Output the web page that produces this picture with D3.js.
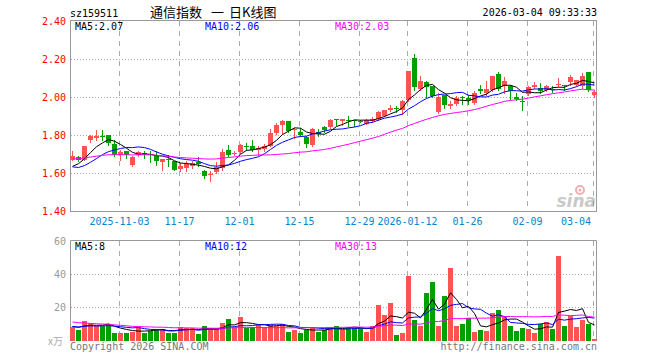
<!DOCTYPE html>
<html>
<head>
<meta charset="utf-8">
<script src="https://cdn.jsdelivr.net/npm/d3@7/dist/d3.min.js"></script>
<style>
  body { margin: 0; background: #fff; }
  text { font-family: "DejaVu Sans Mono", monospace; font-size: 10px; }
</style>
</head>
<body>
<div class="kline"></div>
<script>
// 交易日
const dates = [
  "2025-10-22", "2025-10-23", "2025-10-24", "2025-10-27", "2025-10-28", "2025-10-29", "2025-10-30", "2025-10-31",
  "2025-11-03", "2025-11-04", "2025-11-05", "2025-11-06", "2025-11-07", "2025-11-10", "2025-11-11", "2025-11-12",
  "2025-11-13", "2025-11-14", "2025-11-17", "2025-11-18", "2025-11-19", "2025-11-20", "2025-11-21", "2025-11-24",
  "2025-11-25", "2025-11-26", "2025-11-27", "2025-11-28",
  "2025-12-01", "2025-12-02", "2025-12-03", "2025-12-04", "2025-12-05", "2025-12-08", "2025-12-09", "2025-12-10",
  "2025-12-11", "2025-12-12", "2025-12-15", "2025-12-16", "2025-12-17", "2025-12-18", "2025-12-19", "2025-12-22",
  "2025-12-23", "2025-12-24", "2025-12-25", "2025-12-26", "2025-12-29", "2025-12-30", "2025-12-31",
  "2026-01-05", "2026-01-06", "2026-01-07", "2026-01-08", "2026-01-09", "2026-01-12", "2026-01-13", "2026-01-14",
  "2026-01-15", "2026-01-16", "2026-01-19", "2026-01-20", "2026-01-21", "2026-01-22", "2026-01-23", "2026-01-26",
  "2026-01-27", "2026-01-28", "2026-01-29", "2026-01-30",
  "2026-02-02", "2026-02-03", "2026-02-04", "2026-02-05", "2026-02-06", "2026-02-09", "2026-02-10", "2026-02-11",
  "2026-02-12", "2026-02-13", "2026-02-24", "2026-02-25", "2026-02-26", "2026-02-27",
  "2026-03-02", "2026-03-03", "2026-03-04"
]
const opens = [
  1.667, 1.684, 1.670, 1.772, 1.784, 1.796, 1.802, 1.754, 1.696, 1.714, 1.644, 1.695, 1.706, 1.702, 1.696, 1.656,
  1.672, 1.661, 1.621, 1.626, 1.639, 1.656, 1.609, 1.589, 1.604, 1.626, 1.723, 1.702, 1.709, 1.744, 1.740, 1.723,
  1.726, 1.744, 1.811, 1.854, 1.875, 1.825, 1.814, 1.788, 1.749, 1.814, 1.842, 1.842, 1.883, 1.872, 1.881, 1.881,
  1.876, 1.860, 1.872, 1.886, 1.902, 1.930, 1.944, 1.933, 1.986, 2.205, 2.042, 2.079, 2.056, 1.919, 2.012, 1.954,
  1.965, 2.000, 1.995, 1.968, 2.044, 2.021, 2.035, 2.123, 2.056, 2.060, 1.998, 1.979, 2.018, 2.051, 2.047, 2.039,
  2.040, 2.063, 2.065, 2.077, 2.065, 2.056, 2.130, 2.010
]
const highs = [
  1.714, 1.688, 1.744, 1.802, 1.828, 1.825, 1.802, 1.775, 1.723, 1.716, 1.688, 1.714, 1.714, 1.714, 1.714, 1.674,
  1.696, 1.663, 1.653, 1.661, 1.661, 1.684, 1.618, 1.609, 1.656, 1.726, 1.749, 1.714, 1.754, 1.758, 1.772, 1.740,
  1.754, 1.832, 1.863, 1.881, 1.875, 1.837, 1.837, 1.793, 1.837, 1.832, 1.849, 1.884, 1.886, 1.886, 1.902, 1.881,
  1.877, 1.884, 1.895, 1.925, 1.933, 1.960, 1.951, 1.986, 2.139, 2.228, 2.109, 2.082, 2.056, 2.021, 2.012, 1.977,
  2.004, 2.004, 2.012, 2.030, 2.061, 2.086, 2.109, 2.132, 2.105, 2.065, 2.021, 2.004, 2.056, 2.079, 2.074, 2.065,
  2.056, 2.100, 2.065, 2.118, 2.091, 2.126, 2.130, 2.039
]
const lows = [
  1.667, 1.665, 1.667, 1.761, 1.775, 1.775, 1.749, 1.688, 1.667, 1.679, 1.639, 1.688, 1.679, 1.656, 1.644, 1.618,
  1.639, 1.614, 1.609, 1.609, 1.626, 1.639, 1.574, 1.556, 1.600, 1.618, 1.688, 1.696, 1.705, 1.723, 1.714, 1.696,
  1.714, 1.740, 1.807, 1.807, 1.814, 1.784, 1.793, 1.737, 1.744, 1.793, 1.814, 1.837, 1.854, 1.854, 1.849, 1.849,
  1.870, 1.856, 1.867, 1.881, 1.898, 1.925, 1.919, 1.912, 1.977, 2.039, 2.039, 2.000, 2.000, 1.916, 1.942, 1.942,
  1.960, 1.965, 1.965, 1.965, 2.021, 2.012, 2.033, 2.039, 2.021, 1.989, 1.986, 1.930, 2.012, 2.047, 2.021, 2.030,
  2.025, 2.056, 2.039, 2.065, 2.056, 2.047, 2.030, 2.000
]
const closes = [
  1.691, 1.670, 1.740, 1.793, 1.796, 1.793, 1.758, 1.696, 1.709, 1.696, 1.684, 1.709, 1.703, 1.699, 1.661, 1.674,
  1.670, 1.618, 1.639, 1.649, 1.653, 1.649, 1.582, 1.593, 1.632, 1.709, 1.696, 1.706, 1.749, 1.737, 1.719, 1.732,
  1.744, 1.811, 1.854, 1.872, 1.819, 1.832, 1.802, 1.754, 1.832, 1.807, 1.825, 1.881, 1.879, 1.886, 1.877, 1.875,
  1.873, 1.881, 1.884, 1.919, 1.930, 1.942, 1.942, 1.981, 2.139, 2.051, 2.082, 2.053, 2.007, 2.000, 1.960, 1.963,
  1.995, 1.995, 1.986, 2.021, 2.030, 2.042, 2.109, 2.042, 2.086, 2.030, 1.989, 1.975, 2.053, 2.065, 2.030, 2.060,
  2.037, 2.066, 2.062, 2.105, 2.091, 2.112, 2.039, 2.025
]
// 成交量(万)
const volumes = [
  8.4, 6.4, 11.7, 10.3, 8.8, 8.8, 10.0, 4.8, 4.8, 4.8, 5.4, 8.4, 4.8, 6.0, 7.0, 7.0, 4.8, 4.8, 8.4, 7.8,
  7.4, 4.0, 8.8, 7.4, 7.4, 10.7, 12.9, 8.4, 14.1, 7.4, 8.4, 9.4, 8.4, 9.4, 9.0, 10.0, 5.4, 6.4, 4.8, 6.4,
  8.4, 5.4, 6.4, 8.4, 8.8, 6.4, 8.4, 7.8, 7.4, 5.4, 8.8, 21.3, 15.3, 22.7, 3.4, 4.8, 38.6, 12.3, 8.8, 28.7,
  35.2, 8.8, 26.9, 43.6, 8.8, 10.0, 13.3, 5.4, 6.4, 5.8, 16.7, 18.3, 14.7, 8.8, 5.8, 7.6, 7.0, 4.8, 10.0, 11.3,
  7.0, 51.0, 8.8, 14.9, 8.4, 12.3, 10.0, 1.0
]
// 图中区间之前的29个交易日(估计值,只用于均线)
const priorCloses = [
  1.62, 1.63, 1.65, 1.66, 1.66, 1.67, 1.68, 1.70, 1.72, 1.71, 1.69, 1.70, 1.696, 1.74, 1.76,
  1.75, 1.73, 1.72, 1.71, 1.70, 1.703, 1.64, 1.62, 1.60, 1.586, 1.60, 1.61, 1.63, 1.644
]
const priorVolumes = [
  18, 16, 20, 14, 15, 13, 17, 12, 14, 15, 11.2, 10, 9, 11, 8, 9.5, 10, 8.3, 9, 9,
  9, 7.5, 8, 9.5, 8, 9, 7.6, 8, 9
]
const tickDates = ["2025-11-03", "2025-11-17", "2025-12-01", "2025-12-15", "2025-12-29", "2026-01-12", "2026-01-26", "2026-02-09", "2026-03-04"]
const tickLabels = ["2025-11-03", "11-17", "12-01", "12-15", "12-29", "2026-01-12", "01-26", "02-09", "03-04"]
const priceTicks = [2.40, 2.20, 2.00, 1.80, 1.60, 1.40]
const volumeTicks = [60, 40, 20]
const maPeriods = [5, 10, 30]
const maColors = ["#000000", "#0000ff", "#ff00ff"]
const priceMaText = ["MA5:2.07", "MA10:2.06", "MA30:2.03"]
const volumeMaText = ["MA5:8", "MA10:12", "MA30:13"]

let width = 660, height = 360
let red = "#ff5353", green = "#00a000", gridColor = "#aaaaaa", borderColor = "#999999"

let svg = d3.select(".kline")
  .append("svg")
  .attr("width", width)
  .attr("height", height)
  .style("display", "block")

let x = d3.scaleBand().domain(dates).range([69.5, 597.5])
let y = d3.scaleLinear().domain([1.4, 2.4]).range([211, 21])
let yv = d3.scaleLinear().domain([0, 60]).range([340.5, 240.5])
let cx = (d) => x(d) + 3

// 均线,用前面的数据补齐
function movingAvg(prior, values, n) {
  let all = prior.concat(values)
  return values.map((v, i) => {
    let end = prior.length + i + 1
    return d3.mean(all.slice(end - n, end))
  })
}

// 标题
svg.append("text").attr("x", 70).attr("y", 17).text("sz159511")
let title = svg.append("text").attr("y", 17)
  .style("font-family", "'Noto Sans CJK SC', sans-serif").style("font-size", "13px")
title.append("tspan").attr("x", 150).text("通信指数")
title.append("tspan").attr("x", 211).text("一")
title.append("tspan").attr("x", 229).text("日K线图")
svg.append("text").attr("x", 597).attr("y", 16).attr("text-anchor", "end").text("2026-03-04 09:33:33")

// 网格
let grid = svg.append("g")
grid.selectAll(".hgrid")
  .data(priceTicks.slice(1, -1))
  .enter()
  .append("line")
  .attr("x1", 71).attr("x2", 596)
  .attr("y1", (d) => Math.round(y(d)) + 0.5)
  .attr("y2", (d) => Math.round(y(d)) + 0.5)
  .attr("stroke", gridColor).attr("stroke-dasharray", "1,2")
grid.selectAll(".vgrid")
  .data(volumeTicks.slice(1))
  .enter()
  .append("line")
  .attr("x1", 71).attr("x2", 596)
  .attr("y1", (d) => Math.round(yv(d)) + 0.5)
  .attr("y2", (d) => Math.round(yv(d)) + 0.5)
  .attr("stroke", gridColor).attr("stroke-dasharray", "1,2")
tickDates.forEach((d) => {
  let px = Math.round(x(d)) + 1.5
  grid.append("line").attr("x1", px).attr("x2", px).attr("y1", 21).attr("y2", 211)
    .attr("stroke", gridColor).attr("stroke-dasharray", "5,5")
  grid.append("line").attr("x1", px).attr("x2", px).attr("y1", 241).attr("y2", 341)
    .attr("stroke", gridColor).attr("stroke-dasharray", "5,5")
})

// 边框
svg.append("rect").attr("x", 70.5).attr("y", 20.5).attr("width", 526).attr("height", 191)
  .attr("fill", "none").attr("stroke", borderColor)
svg.append("path").attr("d", "M70.5,341V240.5H596.5V341")
  .attr("fill", "none").attr("stroke", borderColor)

// 坐标文字
svg.append("g")
  .selectAll("text")
  .data(priceTicks)
  .enter()
  .append("text")
  .attr("x", 66).attr("y", (d) => y(d) + 4)
  .attr("text-anchor", "end").attr("fill", "#ff0000")
  .text((d) => d.toFixed(2))
svg.append("g")
  .selectAll("text")
  .data(volumeTicks)
  .enter()
  .append("text")
  .attr("x", 66).attr("y", (d) => yv(d) + 4)
  .attr("text-anchor", "end").attr("fill", "#999999")
  .text((d) => d)
svg.append("text").attr("x", 48).attr("y", 345).attr("fill", "#aaaaaa")
  .style("font-family", "'Noto Sans CJK SC', sans-serif").style("font-size", "10px").text("x万")
svg.append("g")
  .selectAll("text")
  .data(tickDates)
  .enter()
  .append("text")
  .attr("x", (d, i) => i == tickDates.length - 1 ? 591 : Math.round(x(d)) + 1.5)
  .attr("y", 225)
  .attr("text-anchor", (d, i) => i == tickDates.length - 1 ? "end" : "middle")
  .attr("fill", "#0a84cc")
  .text((d, i) => tickLabels[i])

// sina 水印
let logo = svg.append("g").attr("opacity", 0.45)
logo.append("circle").attr("cx", 580).attr("cy", 190).attr("r", 4).attr("fill", "none").attr("stroke", "#e05050").attr("stroke-width", 2)
logo.append("circle").attr("cx", 580).attr("cy", 190).attr("r", 1.5).attr("fill", "#e05050")
logo.append("text").attr("x", 596).attr("y", 207).attr("text-anchor", "end")
  .style("font-family", "'DejaVu Sans', sans-serif").style("font-size", "17px")
  .style("font-weight", "bold").style("font-style", "italic").attr("fill", "#888888").text("sina")

// K线
let up = (i) => closes[i] >= opens[i]
let candles = svg.append("g")
candles.selectAll("line")
  .data(dates)
  .enter()
  .append("line")
  .attr("x1", (d) => cx(d)).attr("x2", (d) => cx(d))
  .attr("y1", (d, i) => Math.round(y(highs[i])))
  .attr("y2", (d, i) => Math.round(y(lows[i])) + 1)
  .attr("stroke", (d, i) => up(i) ? red : green)
candles.selectAll("rect")
  .data(dates)
  .enter()
  .append("rect")
  .attr("x", (d) => x(d) + 0.5)
  .attr("width", 5)
  .attr("y", (d, i) => Math.round(y(Math.max(opens[i], closes[i]))))
  .attr("height", (d, i) => Math.max(1, Math.round(y(Math.min(opens[i], closes[i]))) - Math.round(y(Math.max(opens[i], closes[i])))))
  .attr("fill", (d, i) => up(i) ? red : green)

// 成交量
svg.append("g")
  .selectAll("rect")
  .data(volumes)
  .enter()
  .append("rect")
  .attr("x", (d, i) => x(dates[i]) + 0.5)
  .attr("width", 5)
  .attr("y", (d) => Math.round(yv(d)))
  .attr("height", (d) => 341 - Math.round(yv(d)))
  .attr("fill", (d, i) => up(i) ? red : green)

// 均线
maPeriods.forEach((n, j) => {
  let pm = movingAvg(priorCloses, closes, n)
  let vm = movingAvg(priorVolumes, volumes, n)
  svg.append("path")
    .datum(pm)
    .attr("d", d3.line().x((d, i) => cx(dates[i])).y((d) => y(d)))
    .attr("fill", "none").attr("stroke", maColors[j]).attr("stroke-width", 1)
  svg.append("path")
    .datum(vm)
    .attr("d", d3.line().x((d, i) => cx(dates[i])).y((d) => yv(d)))
    .attr("fill", "none").attr("stroke", maColors[j]).attr("stroke-width", 1)
  svg.append("text").attr("x", 75 + j * 130).attr("y", 30).attr("fill", maColors[j]).text(priceMaText[j])
  svg.append("text").attr("x", 75 + j * 130).attr("y", 250).attr("fill", maColors[j]).text(volumeMaText[j])
})

svg.append("text").attr("x", 70).attr("y", 350).attr("fill", "#777777").text("Copyright 2026 SINA.COM")
svg.append("text").attr("x", 597).attr("y", 350).attr("text-anchor", "end").attr("fill", "#777777").text("http://finance.sina.com.cn")
</script>
</body>
</html>
